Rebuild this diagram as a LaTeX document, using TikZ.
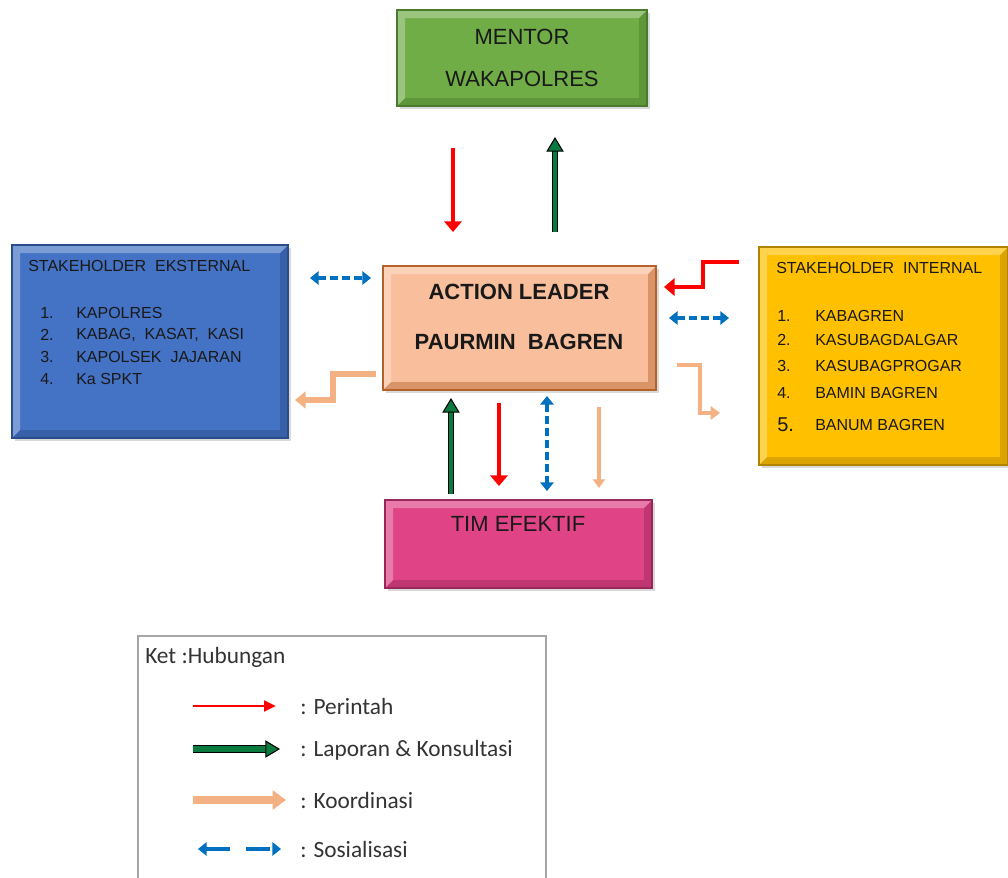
\documentclass[tikz,border=0pt]{standalone}
\usepackage{fontspec}
\setmainfont{Liberation Sans}
\newfontfamily\legfont{Carlito}
\usetikzlibrary{arrows.meta,positioning,shadows}

\definecolor{mentorgreen}{HTML}{70AD47}
\definecolor{mentoredge}{HTML}{4A7A2C}
\definecolor{leaderpeach}{HTML}{F9BF9C}
\definecolor{leaderedge}{HTML}{B4612A}
\definecolor{ekstblue}{HTML}{4472C4}
\definecolor{ekstedge}{HTML}{2A4C8A}
\definecolor{internyellow}{HTML}{FFC000}
\definecolor{internedge}{HTML}{B08400}
\definecolor{timpink}{HTML}{E04386}
\definecolor{timedge}{HTML}{98285A}
\definecolor{perintahred}{HTML}{FF0000}
\definecolor{laporangreen}{HTML}{0B7A3E}
\definecolor{koorpeach}{HTML}{F4B183}
\definecolor{sosialblue}{HTML}{0070C0}

\begin{document}
\begin{tikzpicture}[
        x=0.75pt, y=-0.75pt,
        unit/.style 2 args={rectangle, fill=#1, draw=#2, line width=0.8pt,
            drop shadow={shadow xshift=2pt, shadow yshift=-2pt, opacity=0.3},
            path picture={
                \fill[#2, opacity=0.45] (path picture bounding box.south west) -- (path picture bounding box.south east)
                    -- (path picture bounding box.north east) -- ([shift={(-6pt,-6pt)}]path picture bounding box.north east)
                    -- ([shift={(-6pt,6pt)}]path picture bounding box.south east) -- ([shift={(6pt,6pt)}]path picture bounding box.south west) -- cycle;
                \fill[white, opacity=0.3] (path picture bounding box.south west) -- ([shift={(6pt,6pt)}]path picture bounding box.south west)
                    -- ([shift={(6pt,-6pt)}]path picture bounding box.north west) -- ([shift={(-6pt,-6pt)}]path picture bounding box.north east)
                    -- (path picture bounding box.north east) -- (path picture bounding box.north west) -- cycle;}},
        boxtxt/.style={font=\fontsize{16.5}{19}\selectfont, text=black!90, inner sep=0pt},
        listtxt/.style={font=\fontsize{12}{14}\selectfont, text=black!90, anchor=west, inner sep=0pt},
        legtxt/.style={font=\legfont\fontsize{17.5}{20}\selectfont, text=black!80, anchor=west, inner sep=0pt},
        perintah/.style n args={3}{draw=perintahred, line width=#1, -{Triangle[length=#2, width=#3]}},
        laporan/.style={draw=laporangreen, line width=#1,
            -{Triangle[length=11pt, width=13pt, fill=laporangreen, color=black, line width=0.8pt]},
            preaction={draw=black, -, line width=#1+1.6pt, shorten >=7pt}},
        koor/.style n args={3}{draw=koorpeach, line width=#1, -{Triangle[length=#2, width=#3]}},
        sosial/.style={draw=sosialblue, line width=3pt, dash pattern=on 6pt off 3pt,
            {Triangle[length=6.5pt, width=10pt]}-{Triangle[length=6.5pt, width=10pt]}}
    ]
\clip[use as bounding box] (0,0) rectangle (1008,878);

% boxes
\node[unit={mentorgreen}{mentoredge}, minimum width=187.5pt, minimum height=72pt, boxtxt, align=center] (mentor) at (522,58) {MENTOR\\[13pt]WAKAPOLRES};
\node[unit={leaderpeach}{leaderedge}, minimum width=204.75pt, minimum height=93pt] (leader) at (519.5,328) {};
\node[boxtxt, font=\fontsize{16.5}{19}\selectfont\bfseries, align=center] (leader-txt) at (519,317) {ACTION LEADER\\[19pt]PAURMIN~~BAGREN};
\node[unit={ekstblue}{ekstedge}, minimum width=207pt, minimum height=144.75pt] (ekst) at (150,341.5) {};
\node[unit={internyellow}{internedge}, minimum width=186.75pt, minimum height=163.5pt] (intern) at (883.5,356) {};
\node[unit={timpink}{timedge}, minimum width=200.25pt, minimum height=66pt] (tim) at (518.5,544) {};
\node[boxtxt] (tim-txt) at (518,524) {TIM EFEKTIF};

% stakeholder lists
\node[listtxt] (ekst-title) at (28,266) {STAKEHOLDER~~EKSTERNAL};
\foreach \t [count=\i] in {KAPOLRES, {KABAG,~~KASAT,~~KASI}, {KAPOLSEK~~JAJARAN}, Ka SPKT} {
    \node[listtxt] (ekst-n\i) at (40,291+22*\i) {\i.};
    \node[listtxt] (ekst-\i) at (76,291+22*\i) {\t};
}
\node[listtxt] (intern-title) at (776,268) {STAKEHOLDER~~INTERNAL};
\foreach \y/\s/\t [count=\i] in {316/12/KABAGREN, 340/12/KASUBAGDALGAR, 366/12/KASUBAGPROGAR, 393/12/BAMIN BAGREN, 425/15/BANUM BAGREN} {
    \node[listtxt, font=\fontsize{\s}{\s}\selectfont] (intern-n\i) at (777,\y) {\i.};
    \node[listtxt] (intern-\i) at (815,\y) {\t};
}

% connectors
\coordinate (m-a) at (453,148);  \coordinate (m-b) at (453,232);
\coordinate (m-c) at (555,232);  \coordinate (m-d) at (555,137);
\coordinate (e-a) at (310,278);  \coordinate (e-b) at (371,278);
\coordinate (e-c) at (376,374);  \coordinate (e-d) at (295,400);
\coordinate (i-a) at (739,262);  \coordinate (i-b) at (664,287);
\coordinate (i-c) at (669,318);  \coordinate (i-d) at (729,318);
\coordinate (i-e) at (677,365);  \coordinate (i-f) at (720,413);
\coordinate (t-a) at (451,494);  \coordinate (t-b) at (451,398);
\coordinate (t-c) at (499,403);  \coordinate (t-d) at (499,486);
\coordinate (t-e) at (547,396);  \coordinate (t-f) at (547,491);
\coordinate (t-g) at (599,407);  \coordinate (t-h) at (599,488);

\draw[perintah={3.5pt}{8pt}{13pt}] (m-a) -- (m-b);
\draw[laporan=3.5pt] (m-c) -- (m-d);
\draw[sosial] (e-a) -- (e-b);
\draw[koor={4.5pt}{8pt}{12.5pt}] (e-c) -- (333,374) -- (333,400) -- (e-d);
\draw[perintah={3.5pt}{8pt}{13pt}] (i-a) -- (703,262) -- (703,287) -- (i-b);
\draw[sosial] (i-c) -- (i-d);
\draw[koor={3.5pt}{7pt}{10pt}] (i-e) -- (700,365) -- (700,413) -- (i-f);
\draw[laporan=3.5pt] (t-a) -- (t-b);
\draw[perintah={3.5pt}{8pt}{13pt}] (t-c) -- (t-d);
\draw[sosial] (t-e) -- (t-f);
\draw[koor={2.5pt}{6.5pt}{9pt}] (t-g) -- (t-h);

% legend
\node[draw=gray!70, line width=0.8pt, minimum width=306pt, minimum height=210pt] (legend) at (342,776) {};
\node[legtxt] (leg-title) at (145,657) {Ket :Hubungan};
\node[legtxt] (leg-perintah) at (300,706) {: Perintah};
\node[legtxt] (leg-laporan) at (300,750) {: Laporan \& Konsultasi};
\node[legtxt] (leg-koor) at (300,800) {: Koordinasi};
\node[legtxt] (leg-sosial) at (300,849) {: Sosialisasi};
\coordinate (l-a) at (193,706);  \coordinate (l-b) at (276,706);
\coordinate (l-c) at (193,749);  \coordinate (l-d) at (280,749);
\coordinate (l-e) at (193,800);  \coordinate (l-f) at (286,800);
\coordinate (l-g) at (198,849);  \coordinate (l-h) at (281,849);
\draw[perintah={2pt}{9pt}{8pt}] (l-a) -- (l-b);
\draw[laporan=4pt] (l-c) -- (l-d);
\draw[koor={5.5pt}{10pt}{14pt}] (l-e) -- (l-f);
\draw[sosial, dash pattern=on 18pt off 12pt] (l-g) -- (l-h);
\end{tikzpicture}
\end{document}
